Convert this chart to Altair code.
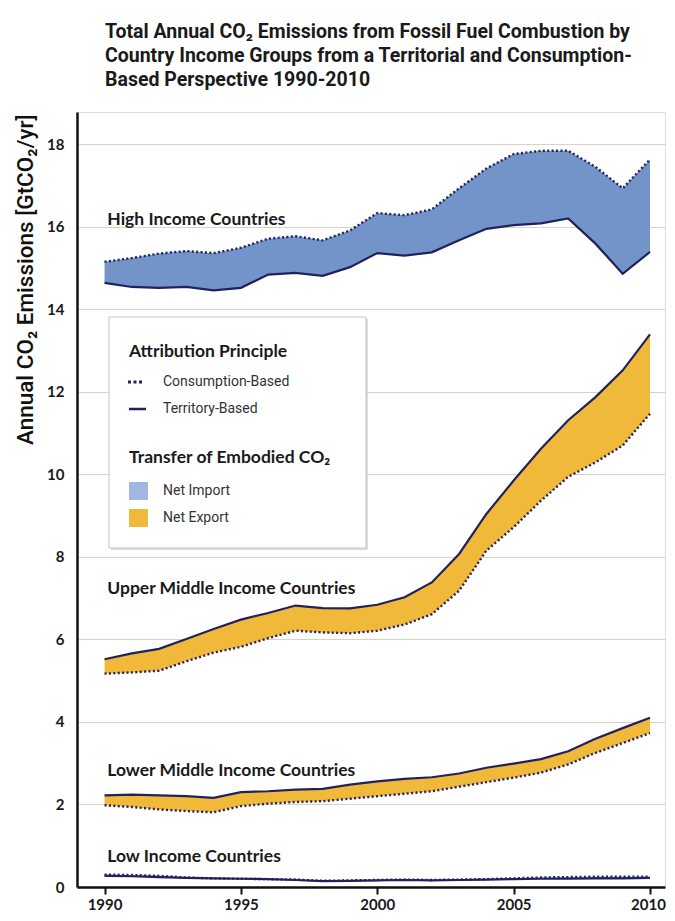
import altair as alt
import pandas as pd

# ---------------- data (GtCO2/yr) ----------------
years = list(range(1990, 2011))

high_territory = [14.64, 14.54, 14.52, 14.54, 14.46, 14.52, 14.84, 14.88, 14.81, 15.02, 15.36,
                  15.30, 15.38, 15.67, 15.95, 16.04, 16.08, 16.20, 15.59, 14.86, 15.39]
high_consumption = [15.15, 15.24, 15.35, 15.41, 15.36, 15.49, 15.71, 15.77, 15.67, 15.91, 16.33,
                    16.28, 16.42, 16.93, 17.41, 17.76, 17.84, 17.84, 17.45, 16.93, 17.63]

upper_territory = [5.52, 5.66, 5.77, 6.01, 6.25, 6.48, 6.64, 6.82, 6.76, 6.75, 6.84,
                   7.02, 7.38, 8.07, 9.04, 9.85, 10.62, 11.31, 11.87, 12.52, 13.39]
upper_consumption = [5.17, 5.20, 5.24, 5.47, 5.68, 5.82, 6.03, 6.21, 6.17, 6.15, 6.21,
                     6.36, 6.61, 7.18, 8.15, 8.72, 9.36, 9.94, 10.29, 10.70, 11.47]

lower_territory = [2.22, 2.24, 2.22, 2.20, 2.16, 2.30, 2.32, 2.36, 2.38, 2.48, 2.56,
                   2.62, 2.66, 2.75, 2.89, 2.99, 3.10, 3.29, 3.59, 3.85, 4.10]
lower_consumption = [1.98, 1.94, 1.88, 1.84, 1.81, 1.96, 2.02, 2.06, 2.08, 2.14, 2.20,
                     2.26, 2.32, 2.43, 2.54, 2.65, 2.77, 2.97, 3.25, 3.49, 3.73]

low_territory = [0.27, 0.26, 0.24, 0.22, 0.21, 0.20, 0.19, 0.17, 0.14, 0.15, 0.16,
                 0.17, 0.16, 0.17, 0.18, 0.19, 0.20, 0.20, 0.21, 0.21, 0.22]
low_consumption = [0.30, 0.29, 0.27, 0.23, 0.21, 0.20, 0.19, 0.18, 0.15, 0.16, 0.17,
                   0.18, 0.17, 0.18, 0.19, 0.21, 0.23, 0.24, 0.25, 0.25, 0.25]

groups = ["High Income Countries", "Upper Middle Income Countries",
          "Lower Middle Income Countries", "Low Income Countries"]
group_transfer = ["Net Import", "Net Export", "Net Export", "Net Import"]
label_year = [1990.1, 1990.1, 1990.1, 1990.1]
label_value = [16.16, 7.22, 2.82, 0.73]

x_ticks = [1990, 1995, 2000, 2005, 2010]
y_ticks = [0, 2, 4, 6, 8, 10, 12, 14, 16, 18]

title_lines = ["Total Annual CO\u2082 Emissions from Fossil Fuel Combustion by",
               "Country Income Groups from a Territorial and Consumption-",
               "Based Perspective 1990-2010"]
y_title = "Annual CO\u2082 Emissions [GtCO\u2082/yr]"
legend_head_1 = "Attribution Principle"
legend_head_2 = "Transfer of Embodied CO\u2082"
legend_lines = ["Consumption-Based", "Territory-Based"]
legend_fills = ["Net Import", "Net Export"]

# ---------------- styles / layout ----------------
BLUE = "#7294c8"
YELLOW = "#f1b93a"
BLUE_SW = "#a2b7df"
NAVY = "#22215e"
BG = "#fcf9ee"
W, H = 588, 775
PAD = {"left": 69, "top": 104, "right": 2, "bottom": 25}

series = {
    groups[0]: (high_territory, high_consumption),
    groups[1]: (upper_territory, upper_consumption),
    groups[2]: (lower_territory, lower_consumption),
    groups[3]: (low_territory, low_consumption),
}
rows = []
for g, tr in zip(groups, group_transfer):
    terr, cons = series[g]
    for yr, t, c in zip(years, terr, cons):
        rows.append({"group": g, "year": yr, "territory": t, "consumption": c, "transfer": tr})
df = pd.DataFrame(rows)
labels_df = pd.DataFrame({"group": groups, "year": label_year, "value": label_value})

xscale = alt.Scale(domain=[1988.99, 2010.55], nice=False, zero=False)
yscale = alt.Scale(domain=[0, 18.78], nice=False)

x_enc = alt.X("year:Q", scale=xscale,
              axis=alt.Axis(values=x_ticks, format="d", title=None, grid=False,
                            domainColor="#111", domainWidth=2.5, tickColor="#111",
                            tickWidth=2, tickSize=7, labelPadding=3,
                            labelOffset={"condition": {"test": "datum.value == 2010", "value": -2},
                                         "value": 0},
                            labelFont="Lato", labelFontWeight="bold", labelFontSize=15,
                            labelColor="#1a1a1a"))

base = alt.Chart(df)

area = base.mark_area(opacity=1).encode(
    x=x_enc,
    y=alt.Y("consumption:Q", scale=yscale,
            axis=alt.Axis(values=y_ticks, title=y_title, grid=True, gridColor="#d8d3c4",
                          gridWidth=1.2, domainColor="#111", domainWidth=2.5, tickSize=0,
                          labelPadding=13, labelFont="Lato", labelFontWeight="bold",
                          labelFontSize=15, labelColor="#1a1a1a",
                          titleFont="Roboto", titleFontSize=22.5,
                          titleFontWeight=500, titleColor="#111",
                          titleAnchor="end", titleAlign="right", titleY=2, titlePadding=9)),
    y2="territory:Q",
    fill=alt.Fill("transfer:N", scale=alt.Scale(domain=legend_fills, range=[BLUE, YELLOW]),
                  legend=None),
    detail="group:N",
)

terr_line = base.mark_line(color=NAVY, strokeWidth=2.2).encode(
    x="year:Q", y="territory:Q", detail="group:N")
cons_line = base.mark_line(color=NAVY, strokeWidth=2.4, strokeDash=[2, 2.4]).encode(
    x="year:Q", y="consumption:Q", detail="group:N")

group_labels = alt.Chart(labels_df).mark_text(
    align="left", baseline="middle", font="Lato", fontWeight="bold", fontSize=17.5,
    color="#1a1a1a").encode(x="year:Q", y="value:Q", text="group:N")

# ---------------- manual legend box (pixel layout) ----------------
one = pd.DataFrame({"k": [0]})
box_x0, box_x1, box_y0, box_y1 = 32, 289, 205, 436
shadow = alt.Chart(one).mark_rect(color="#c9c7c0", opacity=0.6).encode(
    x=alt.value(box_x0 + 2), x2=alt.value(box_x1 + 2),
    y=alt.value(box_y0 + 2), y2=alt.value(box_y1 + 2))
box = alt.Chart(one).mark_rect(fill="white", stroke="#c4c4c4", strokeWidth=1).encode(
    x=alt.value(box_x0), x2=alt.value(box_x1), y=alt.value(box_y0), y2=alt.value(box_y1))


def txt(s, x, y, bold, size, font, color):
    return alt.Chart(one).mark_text(text=s, align="left", baseline="middle", font=font,
                                    fontWeight="bold" if bold else "normal",
                                    fontSize=size, color=color).encode(
        x=alt.value(x), y=alt.value(y))


head1 = txt(legend_head_1, 52, 240, True, 17.5, "Lato", "#1a1a1a")
head2 = txt(legend_head_2, 52, 346, True, 17.5, "Lato", "#1a1a1a")
lab1 = txt(legend_lines[0], 86, 270, False, 14, "Roboto", "#333333")
lab2 = txt(legend_lines[1], 86, 297, False, 14, "Roboto", "#333333")
lab3 = txt(legend_fills[0], 86, 379, False, 14, "Roboto", "#333333")
lab4 = txt(legend_fills[1], 86, 406, False, 14, "Roboto", "#333333")

sym_dot = alt.Chart(one).mark_rule(color=NAVY, strokeWidth=3, strokeDash=[3, 2.5]).encode(
    x=alt.value(51), x2=alt.value(67), y=alt.value(270))
sym_solid = alt.Chart(one).mark_rule(color=NAVY, strokeWidth=2.5).encode(
    x=alt.value(52), x2=alt.value(69), y=alt.value(297))
sw_blue = alt.Chart(one).mark_rect(color=BLUE_SW).encode(
    x=alt.value(52), x2=alt.value(71), y=alt.value(370), y2=alt.value(388))
sw_yel = alt.Chart(one).mark_rect(color=YELLOW).encode(
    x=alt.value(52), x2=alt.value(71), y=alt.value(397), y2=alt.value(415))

chart = alt.layer(
    area, terr_line, cons_line, group_labels,
    shadow, box, head1, head2, lab1, lab2, lab3, lab4, sym_dot, sym_solid, sw_blue, sw_yel,
).properties(
    width=W, height=H,
    autosize=alt.AutoSizeParams(type="none"),
    padding=PAD,
    title=alt.TitleParams(text=title_lines, anchor="start", frame="group", dx=28,
                          font="Roboto", fontSize=19.5, fontWeight="bold",
                          lineHeight=24, offset=22, color="#1a1a1a"),
).configure_view(fill=BG, strokeWidth=0).configure(background="white")

chart.save("out.html", embed_options={"renderer": "svg", "actions": False})
